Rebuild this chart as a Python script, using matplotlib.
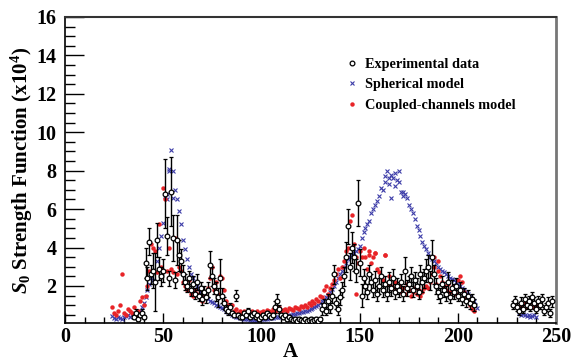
import matplotlib
matplotlib.use("Agg")
import matplotlib.pyplot as plt
from matplotlib.ticker import MultipleLocator

plt.rcParams['font.family'] = 'Liberation Serif'
plt.rcParams['font.weight'] = 'bold'
plt.rcParams['mathtext.fontset'] = 'custom'
plt.rcParams['mathtext.rm'] = 'Liberation Serif:bold'
plt.rcParams['mathtext.it'] = 'Liberation Serif:italic:bold'
plt.rcParams['mathtext.bf'] = 'Liberation Serif:bold'

# spherical optical model (blue crosses)
sph_A = list(range(24, 211)) + [53, 52, 55, 163, 165, 168, 170, 166, 172] + list(range(231, 241))
sph_S = [0.45, 0.35, 0.3, 0.4, 0.35, 0.3, 0.4, 0.45, 0.5, 0.4, 0.55, 0.6, 0.5, 0.65, 0.7, 0.9, 1.1,
         1.4, 1.8, 2.1, 2.4, 2.3, 2.7, 3.3, 4.0, 4.6, 5.3, 6.7, 6.5, 8.1, 9.1, 8.0, 7.0, 6.5, 5.9, 5.2,
         4.4, 3.9, 3.4, 3.0, 2.6, 2.4, 2.2, 2.0, 1.9, 1.7, 1.6, 1.5, 1.4, 1.3, 1.2, 1.15, 1.1, 1.0, 0.95, 0.9,
         0.85, 0.8, 0.7, 0.65, 0.6, 0.5, 0.45, 0.4, 0.38, 0.35, 0.33,
         0.3, 0.28, 0.27, 0.25, 0.25, 0.24, 0.23, 0.24, 0.25, 0.26,
         0.28, 0.3, 0.3, 0.32, 0.33, 0.35, 0.36, 0.38, 0.4, 0.4,
         0.42, 0.44, 0.45, 0.47, 0.5, 0.52, 0.55, 0.57, 0.6, 0.62,
         0.65, 0.68, 0.7, 0.75, 0.8, 0.85, 0.9, 0.95, 1.0, 1.1,
         1.2, 1.3, 1.4, 1.55, 1.7, 1.85, 2.0, 2.2, 2.4, 2.6,
         2.8, 3.0, 3.2, 3.4, 3.5, 3.6, 3.7, 3.8, 3.9, 4.1,
         4.5, 4.8, 5.0, 5.2, 5.4, 5.8, 6.0, 6.2, 6.4, 6.7,
         7.1, 7.0, 7.4, 8.0, 7.6, 7.8, 7.6, 7.9, 7.5, 8.0,
         6.9, 6.9, 6.8, 6.6, 6.2, 6.0, 5.8, 5.5, 5.1, 4.9,
         4.6, 4.3, 4.1, 3.9, 3.7, 3.5, 3.4, 3.3, 3.2, 3.0,
         2.9, 2.8, 2.7, 2.6, 2.5, 2.4, 2.35, 2.3, 2.2, 2.1,
         2.0, 1.9, 1.8, 1.7, 1.6, 1.5, 1.3, 1.2, 1.0, 0.85,
         8.0, 6.8, 6.6, 7.7, 7.3, 7.2, 7.4, 6.6, 6.7,
         0.6, 0.5, 0.55, 0.5, 0.45, 0.5, 0.4, 0.45, 0.5, 0.4]

# coupled-channels model (red dots)
cc_A = list(range(24, 209)) + [146, 148, 155, 158, 163, 188, 190] + list(range(231, 241))
cc_S = [0.9, 0.6, 0.5, 0.7, 1.0, 2.6, 0.6, 0.5, 0.8, 0.7, 0.6, 0.9, 0.5, 0.7, 1.2, 1.4, 1.0,
        1.5, 2.0, 2.8, 4.2, 4.0, 3.8, 2.7, 5.2, 3.0, 7.1, 6.5, 2.8, 4.0, 2.9, 2.7, 4.5, 2.6, 3.0, 2.8,
        2.2, 2.0, 1.8, 2.3, 1.6, 1.5, 1.8, 1.6, 1.5, 1.3, 1.2, 1.6, 1.5, 1.9, 2.4, 3.0, 1.8, 2.2, 1.6, 2.5,
        2.4, 1.8, 1.2, 1.0, 0.9, 1.0, 0.7, 0.8, 0.6, 0.7, 0.55,
        0.7, 0.6, 0.65, 0.5, 0.7, 0.6, 0.55, 0.7, 0.6, 0.65,
        0.7, 0.6, 0.75, 0.7, 0.65, 0.8, 0.7, 0.75, 0.9, 0.7,
        0.75, 0.8, 0.7, 0.85, 0.8, 0.75, 0.9, 0.85, 0.8, 0.95,
        0.9, 1.0, 0.9, 1.1, 1.0, 1.2, 1.1, 1.3, 1.2, 1.5,
        1.4, 1.8, 2.0, 1.6, 1.9, 2.1, 2.3, 2.6, 2.9, 2.4,
        3.0, 3.3, 3.8, 4.0, 5.4, 5.7, 4.2, 3.5, 3.2, 3.8,
        3.5, 4.0, 3.5, 2.9, 3.8, 3.2, 3.5, 3.7, 2.9, 2.7,
        2.5, 2.3, 3.6, 2.1, 2.5, 2.0, 1.9, 2.2, 1.8, 2.0,
        1.7, 1.9, 1.6, 2.1, 1.8, 1.5, 1.7, 1.9, 1.6, 1.8,
        1.5, 1.7, 1.9, 2.0, 1.9, 2.2, 2.6, 3.0, 2.1, 3.3,
        2.5, 2.2, 2.0, 1.8, 2.1, 1.7, 1.9, 2.0, 1.6, 2.3,
        2.5, 2.2, 1.7, 1.4, 1.2, 1.0, 0.8, 0.7,
        4.0, 1.6, 3.6, 3.7, 3.6, 3.5, 2.8,
        0.9, 1.0, 0.8, 1.1, 0.9, 1.0, 1.2, 0.9, 1.1, 1.0]

# experimental data (open circles with errors)
exp_A = list(range(35, 209)) + list(range(228, 249))
exp_S = [0.4, 0.6, 0.3, 0.5, 0.6, 0.4,
         3.2, 2.4, 4.3, 2.6, 2.8, 2.2, 4.4, 2.9, 2.5, 2.8,
         6.8, 4.6, 2.4, 6.9, 4.5, 2.3, 4.4, 3.6, 3.3, 2.6,
         2.2, 2.0, 2.4, 1.8, 2.1, 1.6, 2.2, 1.5, 1.9, 1.3,
         1.7, 1.4, 1.8, 3.1, 2.5, 2.0, 1.7, 1.4, 2.4, 1.5,
         1.1, 0.8, 0.7, 0.9, 0.6, 0.5, 1.5, 0.5, 0.4, 0.4,
         0.6, 0.5, 0.7, 0.4, 0.5, 0.6, 0.4, 0.5, 0.3, 0.4,
         0.5, 0.4, 0.6, 0.5, 0.4, 0.5, 0.9, 1.2, 0.8, 0.5,
         0.4, 0.5, 0.3, 0.4, 0.3, 0.25, 0.3, 0.2, 0.3, 0.25,
         0.2, 0.3, 0.2, 0.25, 0.3, 0.2, 0.25, 0.3, 0.2, 0.3,
         0.8, 1.0, 0.7, 1.2, 0.9, 1.5, 2.6, 1.1, 0.8, 1.4,
         1.8, 2.5, 3.5, 5.1, 3.0, 4.0, 3.5, 2.8, 6.3, 3.2,
         1.5, 2.4, 2.0, 1.7, 2.6, 2.2, 1.8, 2.3, 1.6, 2.0,
         2.5, 1.8, 2.1, 1.6, 2.2, 1.9, 2.4, 1.7, 2.0, 1.8,
         2.2, 1.6, 2.8, 1.9, 2.1, 2.5, 1.8, 2.3, 2.0, 1.7,
         2.6, 2.2, 2.4, 2.8, 3.0, 2.3, 3.5, 2.6, 2.0, 1.7,
         1.5, 2.1, 1.8, 1.6, 2.2, 1.4, 1.9, 1.7, 2.0, 1.5,
         1.8, 1.3, 1.6, 1.2, 1.5, 1.1, 1.3, 1.0,
         1.0, 1.2, 0.9, 0.7, 1.1, 0.8, 1.3, 1.0, 1.2, 0.9, 1.4,
         1.1, 0.8, 1.2, 1.0, 1.3, 0.7, 0.9, 1.1, 0.6, 1.2]
exp_E = [0.1, 0.2, 0.1, 0.1, 0.2, 0.1,
         0.8, 0.6, 0.7, 0.5, 0.9, 1.5, 0.9, 0.6, 0.5, 0.6,
         1.8, 1.0, 0.4, 1.8, 1.2, 0.4, 1.3, 0.8, 0.6, 0.5,
         0.4, 0.3, 0.4, 0.3, 0.4, 0.3, 0.4, 0.3, 0.3, 0.3,
         0.3, 0.3, 0.4, 0.7, 0.5, 0.4, 0.5, 0.5, 1.0, 0.4,
         0.3, 0.2, 0.2, 0.2, 0.1, 0.1, 0.3, 0.1, 0.1, 0.1,
         0.1, 0.1, 0.15, 0.1, 0.1, 0.1, 0.1, 0.1, 0.1, 0.1,
         0.1, 0.1, 0.1, 0.1, 0.1, 0.1, 0.3, 0.4, 0.2, 0.1,
         0.1, 0.1, 0.1, 0.1, 0.1, 0.05, 0.1, 0.05, 0.1, 0.05,
         0.05, 0.1, 0.05, 0.05, 0.1, 0.05, 0.05, 0.1, 0.05, 0.1,
         0.3, 0.3, 0.2, 0.4, 0.3, 0.4, 0.5, 0.3, 0.3, 0.4,
         0.4, 0.5, 0.8, 0.9, 0.7, 0.8, 0.7, 0.6, 1.2, 0.7,
         0.6, 0.5, 0.4, 0.4, 0.5, 0.4, 0.4, 0.5, 0.4, 0.4,
         0.5, 0.4, 0.4, 0.4, 0.5, 0.4, 0.5, 0.4, 0.4, 0.4,
         0.4, 0.4, 0.7, 0.4, 0.4, 0.5, 0.4, 0.4, 0.4, 0.4,
         0.5, 0.5, 0.5, 0.6, 0.6, 0.5, 0.9, 0.5, 0.4, 0.4,
         0.4, 0.4, 0.4, 0.4, 0.5, 0.3, 0.4, 0.4, 0.4, 0.3,
         0.4, 0.3, 0.3, 0.3, 0.3, 0.3, 0.3, 0.3,
         0.2, 0.3, 0.2, 0.2, 0.3, 0.2, 0.3, 0.2, 0.3, 0.2, 0.3,
         0.3, 0.2, 0.3, 0.2, 0.3, 0.2, 0.2, 0.3, 0.2, 0.3]

fig = plt.figure(figsize=(5.75, 3.63), dpi=100)
ax = fig.add_axes([65/575, 1-323/363, 491/575, 306/363])

eb = ax.errorbar(exp_A, exp_S, yerr=exp_E, fmt="o", mfc="white", mec="black", mew=0.9, ms=3.4,
                 ecolor="black", elinewidth=1.0, capsize=1.3, zorder=3)
sph, = ax.plot(sph_A, sph_S, "x", color="#3c3ca8", ms=3.2, mew=0.8, zorder=2)
cc, = ax.plot(cc_A, cc_S, "o", color="#e82428", ms=3.2, mew=0, zorder=2)

ax.set_xlim(0, 250)
ax.set_ylim(0.07, 16)
ax.set_xticks([0, 50, 100, 150, 200, 250])
ax.set_yticks([2, 4, 6, 8, 10, 12, 14, 16])
ax.xaxis.set_minor_locator(MultipleLocator(10))
ax.yaxis.set_minor_locator(MultipleLocator(0.5))
ax.tick_params(direction="in", which="both", top=False, right=False, labelsize=14.5)
ax.tick_params(axis="x", which="major", length=7, width=1, pad=3)
ax.tick_params(axis="x", which="minor", length=4, width=1)
ax.tick_params(axis="y", which="major", length=14, width=1, pad=6)
ax.tick_params(axis="y", which="minor", length=7, width=1)
for lab in ax.get_xticklabels() + ax.get_yticklabels():
    lab.set_fontweight("bold")

ax.spines["left"].set_linewidth(1.2)
ax.spines["bottom"].set_linewidth(1.2)
ax.spines["top"].set_linewidth(1.5)
ax.spines["top"].set_color("#333333")
ax.spines["right"].set_linewidth(2)
ax.spines["right"].set_color("#777777")

ax.set_xlabel("A", fontsize=15, fontweight="bold")
ax.xaxis.set_label_coords(0.458, -0.062)
ax.set_ylabel(r"$S_0$ Strength Function (x10$^{4}$)", fontsize=15, fontweight="bold")
ax.yaxis.set_label_coords(-0.062, 0.5)

ax.legend([eb.lines[0], sph, cc], ["Experimental data", "Spherical model", "Coupled-channels model"],
          loc="upper left", bbox_to_anchor=(0.562, 0.884), frameon=False,
          handlelength=0.8, handletextpad=0.5, labelspacing=0.5, borderaxespad=0,
          prop={"weight": "bold", "size": 10.3})

fig.savefig("out.png", dpi=100)
print("Done")
